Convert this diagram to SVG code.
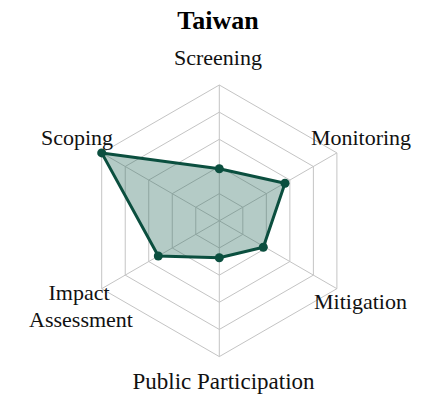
<svg xmlns="http://www.w3.org/2000/svg" width="426" height="395" viewBox="0 0 426 395">
<style>
.grid{fill:none;stroke:#c4c4c4;stroke-width:1}
.lbl{font-family:"Liberation Serif","Times New Roman",serif;font-size:22px;fill:#111;text-anchor:middle}
.title{font-family:"Liberation Serif","Times New Roman",serif;font-size:26px;font-weight:bold;fill:#000;text-anchor:middle}
.area{fill:#2e6f60;fill-opacity:0.36;stroke:#0b4f3f;stroke-width:3;stroke-linejoin:round}
.dot{fill:#0b4f3f}
</style>
<rect width="426" height="395" fill="#fff"/>
<g id="grid">
<polygon class="grid" points="219.3,85 336.9,152.9 336.9,288.7 219.3,356.6 101.7,288.7 101.7,152.9"/>
<polygon class="grid" points="219.3,112.16 313.38,166.48 313.38,275.12 219.3,329.44 125.22,275.12 125.22,166.48"/>
<polygon class="grid" points="219.3,139.32 289.86,180.06 289.86,261.54 219.3,302.28 148.74,261.54 148.74,180.06"/>
<polygon class="grid" points="219.3,166.48 266.34,193.64 266.34,247.96 219.3,275.12 172.26,247.96 172.26,193.64"/>
<polygon class="grid" points="219.3,193.64 242.82,207.22 242.82,234.38 219.3,247.96 195.78,234.38 195.78,207.22"/>
</g>
<g id="connectors">
<line class="grid" x1="219.3" y1="220.8" x2="219.3" y2="85"/>
<line class="grid" x1="219.3" y1="220.8" x2="336.9" y2="152.9"/>
<line class="grid" x1="219.3" y1="220.8" x2="336.9" y2="288.7"/>
<line class="grid" x1="219.3" y1="220.8" x2="219.3" y2="356.6"/>
<line class="grid" x1="219.3" y1="220.8" x2="101.7" y2="288.7"/>
<line class="grid" x1="219.3" y1="220.8" x2="101.7" y2="152.9"/>
</g>
<g id="data">
<polygon class="area" points="219.3,168.7 285,183.3 263.3,247.3 219.3,257.7 158.3,256 101.7,152.9"/>
<circle class="dot" cx="219.3" cy="168.7" r="4.5"/>
<circle class="dot" cx="285" cy="183.3" r="4.5"/>
<circle class="dot" cx="263.3" cy="247.3" r="4.5"/>
<circle class="dot" cx="219.3" cy="257.7" r="4.5"/>
<circle class="dot" cx="158.3" cy="256" r="4.5"/>
<circle class="dot" cx="101.7" cy="152.9" r="4.5"/>
</g>
<g id="title"><text class="title" x="218" y="29">Taiwan</text></g>
<g id="screening"><text class="lbl" x="218" y="65">Screening</text></g>
<g id="monitoring"><text class="lbl" x="361" y="144.5">Monitoring</text></g>
<g id="mitigation"><text class="lbl" x="360.5" y="308.5">Mitigation</text></g>
<g id="public-participation"><text class="lbl" x="223.5" y="389" style="font-size:23px">Public Participation</text></g>
<g id="impact-assessment"><text class="lbl" x="79" y="300">Impact</text><text class="lbl" x="81" y="326.5">Assessment</text></g>
<g id="scoping"><text class="lbl" x="77" y="145">Scoping</text></g>
</svg>
